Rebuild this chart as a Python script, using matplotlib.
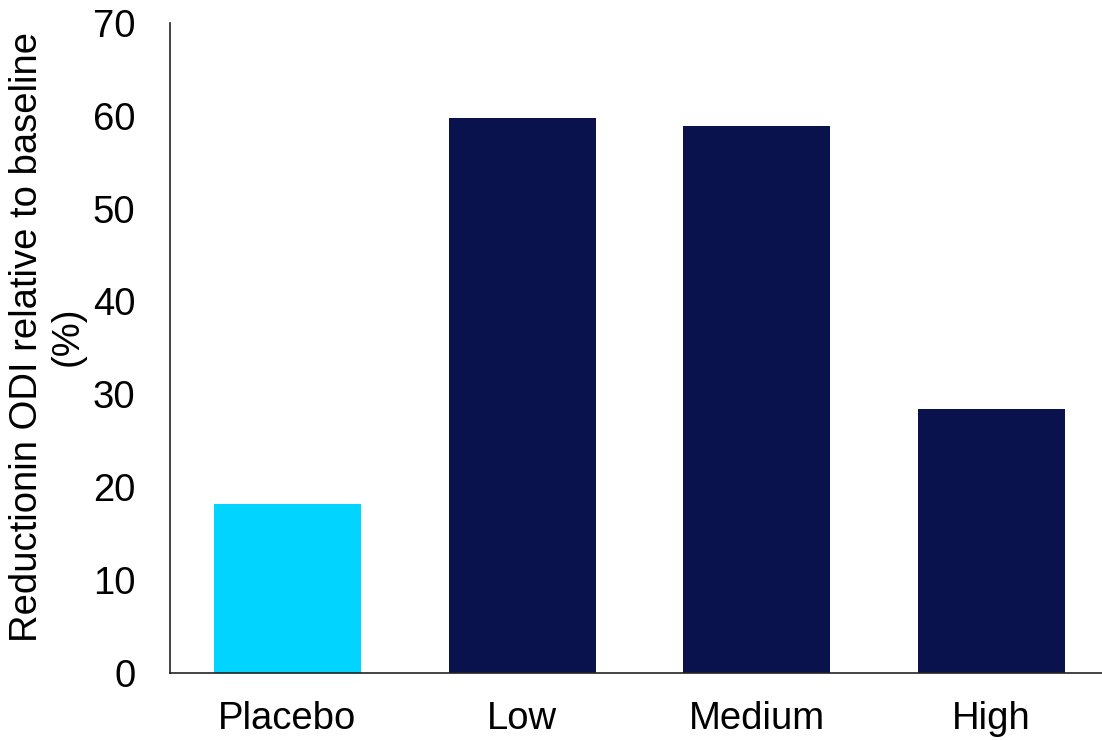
import numpy as np
import matplotlib
matplotlib.use('Agg')
import matplotlib.pyplot as plt

plt.rcParams['font.family'] = ['Liberation Sans', 'DejaVu Sans']

# Data
groups = ['Placebo', 'Low', 'Medium', 'High']
reduction = [18.2, 59.7, 58.9, 28.4]
bar_colors = ['#00D4FF', '#0A124E', '#0A124E', '#0A124E']
y_ticks = [0, 10, 20, 30, 40, 50, 60, 70]

fig = plt.figure(figsize=(11.02, 7.4), dpi=100)
ax = fig.add_axes([0.1543, 0.0905, 0.8457, 0.8788])

x = np.arange(len(groups))
ax.bar(x, reduction, width=0.626, color=bar_colors)

ax.set_xlim(-0.5, 3.47)
ax.set_ylim(0, 70)
ax.set_yticks(y_ticks)
ax.set_xticks(x)
ax.set_xticklabels(groups)
ax.tick_params(axis='both', length=0, labelsize=27.5, colors='black')
ax.tick_params(axis='y', pad=25)
ax.tick_params(axis='x', pad=20)

for side in ['top', 'right']:
    ax.spines[side].set_visible(False)
for side in ['left', 'bottom']:
    ax.spines[side].set_linewidth(1.2)
    ax.spines[side].set_color('#222222')

fig.text(0.043, 0.545, 'Reductionin ODI relative to baseline\n(%)',
         rotation=90, ha='center', va='center', multialignment='center',
         fontsize=27.5, linespacing=1.15)

plt.savefig('out.png', dpi=100)
plt.close()
